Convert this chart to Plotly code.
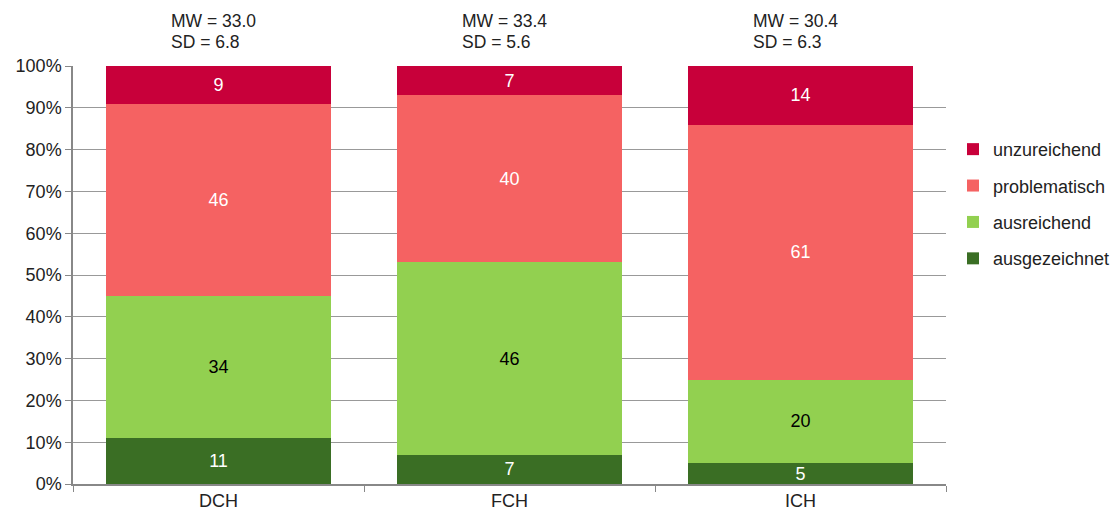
import plotly.graph_objects as go

categories = ["DCH", "FCH", "ICH"]
series_names = ["ausgezeichnet", "ausreichend", "problematisch", "unzureichend"]
ausgezeichnet = [11, 7, 5]
ausreichend = [34, 46, 20]
problematisch = [46, 40, 61]
unzureichend = [9, 7, 14]
mw = ["33.0", "33.4", "30.4"]
sd = ["6.8", "5.6", "6.3"]
tick_vals = [0, 10, 20, 30, 40, 50, 60, 70, 80, 90, 100]
tick_text = ["0%", "10%", "20%", "30%", "40%", "50%", "60%", "70%", "80%", "90%", "100%"]

colors = ["#3A6E24", "#92D050", "#F56262", "#C8003A"]
text_colors = ["white", "black", "white", "white"]
series_vals = [ausgezeichnet, ausreichend, problematisch, unzureichend]

FONT = "Liberation Sans, Arial, sans-serif"

fig = go.Figure()
n = len(series_names)
for i, (name, vals, c, tc) in enumerate(zip(series_names, series_vals, colors, text_colors)):
    fig.add_trace(go.Bar(
        x=categories, y=vals, name=name, legendgroup=name,
        legendrank=(n - i) * 10,
        marker=dict(color=c, line=dict(width=0)),
        text=[str(v) for v in vals], textposition="inside",
        insidetextanchor="middle", textangle=0,
        textfont=dict(color=tc, size=18, family=FONT),
        constraintext="none",
        hoverinfo="skip",
    ))

for i, cat in enumerate(categories):
    fig.add_annotation(
        x=i - 0.17, xref="x", y=1.0, yref="paper", yshift=45,
        text=f"MW = {mw[i]}",
        showarrow=False, xanchor="left", yanchor="middle", align="left",
        font=dict(size=17.5, family=FONT, color="#222"),
    )
    fig.add_annotation(
        x=i - 0.17, xref="x", y=1.0, yref="paper", yshift=24,
        text=f"SD = {sd[i]}",
        showarrow=False, xanchor="left", yanchor="middle", align="left",
        font=dict(size=17.5, family=FONT, color="#222"),
    )

fig.update_layout(
    barmode="stack", bargap=0.23,
    width=1113, height=513,
    margin=dict(l=73, r=167, t=66, b=29, autoexpand=False),
    plot_bgcolor="white", paper_bgcolor="white",
    font=dict(family=FONT, size=18, color="#222"),
    legend=dict(
        x=1.008, xanchor="left", y=0.67, yanchor="middle",
        traceorder="grouped", tracegroupgap=10,
        font=dict(size=18, family=FONT, color="#222"),
        itemwidth=30, bgcolor="rgba(0,0,0,0)",
    ),
    showlegend=True,
)
fig.update_xaxes(
    showline=True, linecolor="#888", linewidth=1.5,
    ticks="outside", tickson="boundaries", ticklen=6, tickcolor="#888",
    tickfont=dict(size=18, family=FONT, color="#222"),
    showgrid=False, automargin=False,
)
fig.update_yaxes(
    range=[0, 100], tickvals=tick_vals, ticktext=tick_text,
    showline=True, linecolor="#888", linewidth=1.5,
    ticks="outside", ticklen=6, tickcolor="#888",
    showgrid=True, gridcolor="#999", gridwidth=1,
    tickfont=dict(size=18, family=FONT, color="#222"),
    zeroline=False, automargin=False,
)

fig.write_html(
    "out.html",
    config={"displayModeBar": False},
    post_script="document.body.style.margin='0';document.body.style.overflow='hidden';",
)
